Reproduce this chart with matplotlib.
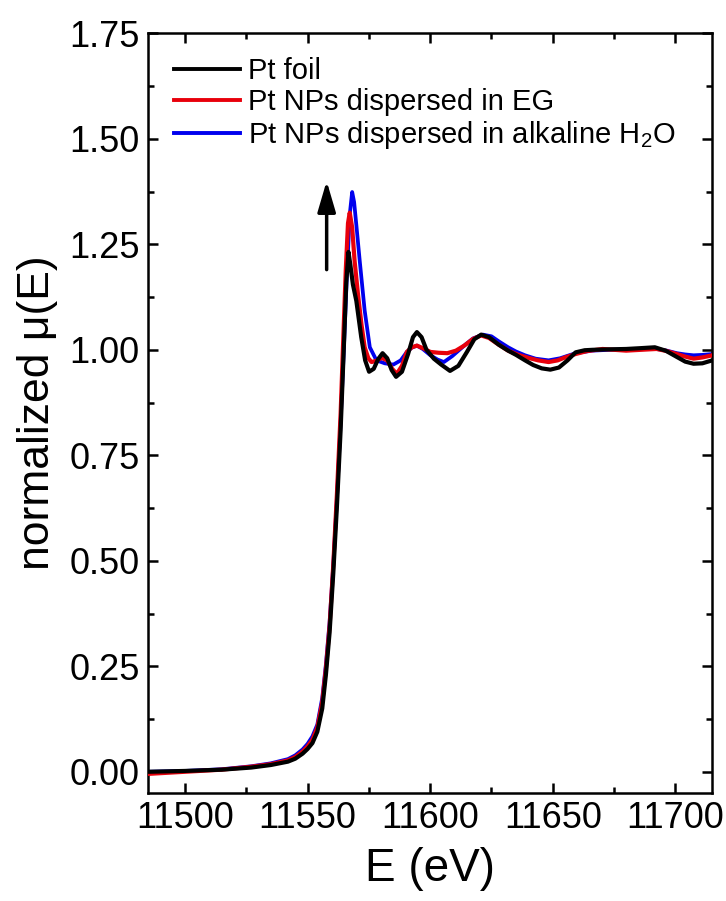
import matplotlib
matplotlib.use("Agg")
import matplotlib.pyplot as plt
from matplotlib.ticker import MultipleLocator

plt.rcParams['font.family'] = ['Liberation Sans', 'DejaVu Sans']
plt.rcParams['mathtext.fontset'] = 'custom'
plt.rcParams['mathtext.rm'] = 'Liberation Sans'
plt.rcParams['mathtext.it'] = 'Liberation Sans:italic'

# ---------------- data ----------------
labels = ["Pt foil", "Pt NPs dispersed in EG", "Pt NPs dispersed in alkaline H$_2$O"]

E_foil = [11485, 11500, 11515, 11527, 11535, 11542, 11545, 11548, 11550, 11552, 11554, 11556,
          11557.5, 11559, 11560.5, 11562, 11563.5, 11564.7, 11565.8, 11566.7, 11567.5, 11568.5,
          11569.9, 11571.9, 11573.5, 11575.1, 11577, 11578.8, 11580.6, 11582.5, 11584.3, 11586.1,
          11588.5, 11591, 11593, 11594.6, 11596.5, 11598.5, 11601.5, 11604.5, 11608.1, 11611.5,
          11615, 11618, 11620.8, 11624, 11628, 11631.8, 11635, 11638.7, 11642, 11645.5, 11649,
          11652.5, 11656, 11659.3, 11663, 11666.2, 11672, 11679.9, 11686, 11691.6, 11696, 11700.6,
          11704, 11707.4, 11711, 11715]
mu_foil = [0.0, 0.002, 0.005, 0.01, 0.016, 0.024, 0.031, 0.043, 0.054, 0.068, 0.095, 0.15,
           0.23, 0.33, 0.47, 0.63, 0.81, 0.99, 1.16, 1.232, 1.20, 1.155,
           1.116, 1.03, 0.975, 0.948, 0.955, 0.978, 0.992, 0.98, 0.952, 0.936,
           0.948, 0.99, 1.03, 1.042, 1.03, 1.0, 0.979, 0.965, 0.950, 0.962,
           0.995, 1.025, 1.036, 1.03, 1.012, 0.998, 0.988, 0.975, 0.964, 0.956, 0.953,
           0.958, 0.975, 0.994, 0.999, 1.0, 1.001, 1.002, 1.004, 1.006, 0.998, 0.983,
           0.972, 0.967, 0.968, 0.975]

E_eg = [11485, 11500, 11515, 11527, 11535, 11542, 11545, 11548, 11550, 11552, 11554, 11556,
        11557.5, 11559, 11560.5, 11562, 11563.5, 11564.6, 11565.6, 11566.5, 11567.2, 11568.2,
        11569.2, 11570.6, 11572, 11573.3, 11574.8, 11576.1, 11578, 11580.2, 11582.5, 11584.5,
        11586.4, 11588.5, 11590.5, 11592.5, 11594.6, 11597, 11600.1, 11603.5, 11607, 11610.5,
        11613.9, 11617.5, 11620.8, 11624, 11628, 11631.8, 11636, 11640, 11644, 11648.3, 11652,
        11655.5, 11659.3, 11664, 11670.3, 11675, 11679.9, 11686, 11692.3, 11696.5, 11700.6,
        11704, 11707.4, 11711, 11715]
mu_eg = [-0.005, 0.0, 0.005, 0.012, 0.018, 0.027, 0.035, 0.048, 0.06, 0.076, 0.105, 0.165,
         0.245, 0.345, 0.49, 0.66, 0.85, 1.03, 1.19, 1.30, 1.325, 1.29,
         1.21, 1.13, 1.06, 1.006, 0.98, 0.971, 0.974, 0.981, 0.975, 0.955,
         0.943, 0.962, 0.995, 1.006, 1.01, 1.004, 0.995, 0.993, 0.992, 0.998,
         1.01, 1.026, 1.034, 1.028, 1.012, 0.998, 0.988, 0.981, 0.975, 0.971, 0.975,
         0.983, 0.99, 0.997, 1.002, 1.0, 0.998, 1.0, 1.002, 0.997, 0.99,
         0.984, 0.979, 0.982, 0.987]

E_h2o = [11485, 11500, 11515, 11527, 11535, 11542, 11545, 11548, 11550, 11552, 11554, 11556,
         11557.5, 11559, 11560.5, 11562, 11563.5, 11564.8, 11566, 11567.2, 11568.2, 11569,
         11570, 11571.3, 11573.3, 11575.4, 11578.1, 11581.5, 11585, 11588, 11590.5, 11592.5,
         11594.6, 11597, 11600.1, 11603, 11605.6, 11609, 11613.9, 11617.5, 11621.5, 11625,
         11628, 11631.8, 11635, 11638.7, 11643, 11648.3, 11653, 11659.3, 11666, 11673, 11680,
         11692.3, 11696.5, 11700.6, 11704, 11707.4, 11711, 11715]
mu_h2o = [0.0, 0.002, 0.006, 0.013, 0.02, 0.03, 0.039, 0.053, 0.066, 0.084, 0.112, 0.175,
          0.255, 0.355, 0.49, 0.65, 0.83, 1.0, 1.17, 1.32, 1.374, 1.35,
          1.29, 1.21, 1.093, 1.006, 0.975, 0.968, 0.965, 0.975, 0.995, 1.005,
          1.01, 1.002, 0.987, 0.977, 0.971, 0.985, 1.01, 1.027, 1.036, 1.032,
          1.02, 1.006, 0.996, 0.987, 0.979, 0.975, 0.98, 0.992, 0.998, 1.0, 1.001,
          1.002, 0.998, 0.992, 0.989, 0.987, 0.988, 0.99]

# arrow (annotation) position
arrow_E = 11557.8
arrow_from = 1.19
arrow_to = 1.40

xticks = [11500, 11550, 11600, 11650, 11700]
yticks = [0.00, 0.25, 0.50, 0.75, 1.00, 1.25, 1.50, 1.75]

# ---------------- figure ----------------
fig = plt.figure(figsize=(7.26, 9.01), dpi=100)
ax = fig.add_axes([0.204, 0.12, 0.777, 0.843])

c_black = '#000000'
c_red = '#e8000b'
c_blue = '#0000ee'

l3, = ax.plot(E_h2o, mu_h2o, color=c_blue, lw=2.7, zorder=2)
l2, = ax.plot(E_eg, mu_eg, color=c_red, lw=3.0, zorder=3)
l1, = ax.plot(E_foil, mu_foil, color=c_black, lw=3.0, zorder=4)

ax.annotate('', xy=(arrow_E, arrow_to), xytext=(arrow_E, arrow_from),
            arrowprops=dict(arrowstyle='-|>,head_length=0.75,head_width=0.22',
                            lw=2.5, color='black', shrinkA=0, shrinkB=0,
                            mutation_scale=25))

ax.set_xlim(11485, 11715)
ax.set_ylim(-0.05, 1.75)
ax.set_xticks(xticks)
ax.set_yticks(yticks)
ax.set_yticklabels([f"{v:.2f}" for v in yticks])
ax.xaxis.set_minor_locator(MultipleLocator(25))
ax.yaxis.set_minor_locator(MultipleLocator(0.125))

ax.tick_params(which='both', direction='in', top=True, right=True, width=1.8)
ax.tick_params(which='major', length=7, labelsize=26, pad=6)
ax.tick_params(which='minor', length=4)
for s in ax.spines.values():
    s.set_linewidth(1.8)

ax.set_xlabel('E (eV)', fontsize=33, labelpad=8)
ax.set_ylabel('normalized \u03bc(E)', fontsize=32, labelpad=8)

leg = ax.legend([l1, l2, l3], labels, loc='upper left', bbox_to_anchor=(0.046, 0.969),
                frameon=False, fontsize=21, handlelength=2.25, handletextpad=0.3,
                labelspacing=0.1, borderpad=0, borderaxespad=0)
for h in leg.get_lines():
    h.set_linewidth(2.8)

fig.savefig('out.png', dpi=100)
